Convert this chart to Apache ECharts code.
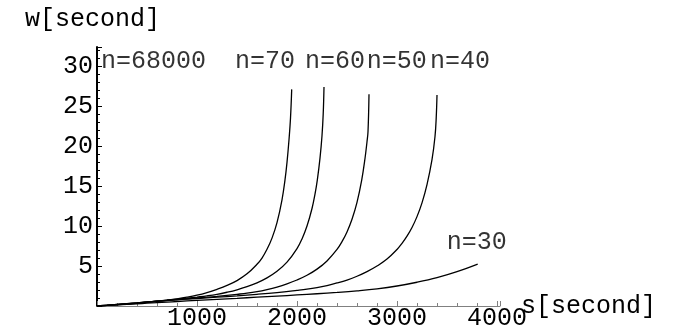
<!DOCTYPE html>
<html>
<head>
   <meta charset="utf-8">
   <style>
      html,
      body {
         margin: 0;
         padding: 0;
         width: 100%;
         height: 100%;
         overflow: hidden;
         background: #fff;
      }
   </style>
   <script src="https://cdn.jsdelivr.net/npm/echarts@6/dist/echarts.min.js"></script>
</head>
<body>
   <div id="container" style="width: 689px; height: 335px;"></div>
   <script>
      // curves, [s, w]
      let curveA = [[0, 0], [100, 0.07], [200, 0.15], [300, 0.24], [400, 0.35], [500, 0.47], [600, 0.6], [700, 0.74], [800, 0.9], [900, 1.1], [1000, 1.35], [1100, 1.68], [1200, 2.09], [1300, 2.57], [1400, 3.18], [1500, 4.02], [1600, 5.22], [1650, 6.0], [1700, 7.09], [1750, 8.49], [1800, 10.42], [1850, 13.29], [1880, 15.78], [1900, 17.97], [1920, 20.8], [1935, 23.5], [1947, 27.1]]
      let curveB = [[0, 0], [100, 0.08], [200, 0.17], [300, 0.27], [400, 0.37], [500, 0.48], [600, 0.6], [700, 0.72], [800, 0.85], [900, 0.98], [1000, 1.12], [1100, 1.27], [1200, 1.46], [1300, 1.72], [1400, 2.03], [1500, 2.42], [1600, 2.9], [1700, 3.52], [1800, 4.34], [1900, 5.48], [2000, 7.18], [2050, 8.39], [2100, 10.0], [2150, 12.2], [2180, 14.0], [2203, 15.75], [2230, 18.5], [2250, 21.3], [2262, 24.0], [2270, 27.4]]
      let curveC = [[0, 0], [100, 0.09], [200, 0.19], [300, 0.29], [400, 0.39], [500, 0.5], [600, 0.6], [700, 0.7], [800, 0.8], [900, 0.9], [1000, 1.0], [1100, 1.1], [1200, 1.21], [1300, 1.33], [1400, 1.46], [1500, 1.6], [1600, 1.79], [1700, 2.05], [1800, 2.37], [1900, 2.77], [2000, 3.25], [2100, 3.84], [2200, 4.61], [2300, 5.64], [2400, 7.08], [2450, 8.05], [2500, 9.27], [2550, 10.85], [2600, 12.97], [2647, 15.75], [2680, 18.45], [2700, 20.55], [2710, 21.8], [2720, 26.5]]
      let curveD = [[0, 0], [100, 0.1], [200, 0.2], [300, 0.3], [400, 0.4], [500, 0.5], [600, 0.6], [700, 0.69], [800, 0.78], [900, 0.86], [1000, 0.94], [1200, 1.1], [1400, 1.27], [1600, 1.46], [1800, 1.68], [2000, 1.95], [2100, 2.1], [2200, 2.3], [2300, 2.56], [2400, 2.88], [2500, 3.25], [2600, 3.72], [2700, 4.3], [2800, 5.0], [2900, 5.87], [3000, 7.07], [3050, 7.83], [3100, 8.73], [3150, 9.82], [3200, 11.18], [3250, 12.9], [3300, 15.19], [3350, 18.3], [3380, 21.2], [3392, 23.5], [3400, 26.4]]
      let curveE = [[0, 0], [100, 0.07], [200, 0.14], [300, 0.21], [400, 0.28], [500, 0.35], [600, 0.42], [700, 0.49], [800, 0.56], [1000, 0.7], [1200, 0.83], [1400, 0.96], [1600, 1.1], [1800, 1.24], [2000, 1.38], [2200, 1.53], [2400, 1.7], [2600, 1.9], [2800, 2.15], [3000, 2.5], [3200, 2.97], [3400, 3.55], [3600, 4.3], [3807, 5.25]]

      // text labels: [s, w, text]
      let curveLabels = [[40, 30.56, 'n=68000'], [1380, 30.56, 'n=70'], [2080, 30.56, 'n=60'], [2697, 30.56, 'n=50'], [3330, 30.56, 'n=40'], [3497, 7.94, 'n=30']]

      let xMax = 4030
      let yMax = 32.4

      var dom = document.getElementById('container');
      var myChart = echarts.init(dom, null, { renderer: 'canvas' });

      let font = '"Liberation Mono", "DejaVu Sans Mono", monospace'

      function curve(data) {
         return {
            type: 'line',
            data: data,
            showSymbol: false,
            smooth: 0.4,
            lineStyle: { color: '#000', width: 1.3 },
            silent: true,
         }
      }

      let option = {
         animation: false,
         grid: { left: 97, right: 189, top: 47, bottom: 29 },
         xAxis: {
            type: 'value', min: 0, max: xMax, interval: 1000,
            name: 's[second]', nameLocation: 'end', nameGap: 21, nameMoveOverlap: false,
            nameTextStyle: { fontFamily: font, fontSize: 25, color: '#000', align: 'left', verticalAlign: 'middle' },
            axisLine: { lineStyle: { color: '#808080', width: 1 } },
            axisTick: { inside: true, length: 5, lineStyle: { color: '#808080' } },
            minorTick: { show: true, splitNumber: 5, length: 3, lineStyle: { color: '#808080' } },
            axisLabel: {
               showMinLabel: false, showMaxLabel: false, margin: 0,
               formatter: v => String(v),
               fontFamily: font, fontSize: 25, color: '#000'
            },
            splitLine: { show: false },
         },
         yAxis: {
            type: 'value', min: 0, max: yMax, interval: 5,
            name: 'w[second]', nameLocation: 'end', nameGap: 28, nameMoveOverlap: false,
            nameTextStyle: { fontFamily: font, fontSize: 25, color: '#000', align: 'center', verticalAlign: 'middle', padding: [0, 9, 0, 0] },
            axisLine: { lineStyle: { color: '#000', width: 2 } },
            axisTick: { inside: true, length: 5, lineStyle: { color: '#000' } },
            minorTick: { show: true, splitNumber: 5, length: 3, lineStyle: { color: '#000' } },
            axisLabel: { showMinLabel: false, showMaxLabel: false, margin: 4, fontFamily: font, fontSize: 25, color: '#000' },
            splitLine: { show: false },
         },
         series: [
            curve(curveA),
            curve(curveB),
            curve(curveC),
            curve(curveD),
            curve(curveE),
            {
               type: 'scatter',
               data: curveLabels,
               symbolSize: 0,
               silent: true,
               label: {
                  show: true, position: 'right', distance: 0,
                  formatter: p => p.data[2],
                  fontFamily: font, fontSize: 25, color: '#000',
               },
            },
         ],
      };

      myChart.setOption(option);
   </script>
</body>
</html>
